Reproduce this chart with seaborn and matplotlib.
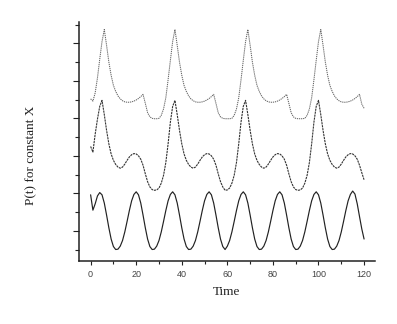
import numpy as np
import pandas as pd
import matplotlib
matplotlib.use("Agg")
import matplotlib.pyplot as plt
import seaborn as sns
from matplotlib.ticker import MultipleLocator

# ---- data (offset stacked series) ----
time = np.arange(0, 121)

top_series = [
    4.52, 4.46, 4.68, 5.08, 5.58, 6.05, 6.37, 5.95, 5.50, 5.15,
    4.88, 4.72, 4.60, 4.52, 4.47, 4.44, 4.43, 4.43, 4.44, 4.46,
    4.49, 4.53, 4.58, 4.64, 4.40, 4.15, 4.04, 4.00, 3.99, 3.99,
    4.00, 4.08, 4.25, 4.55, 5.03, 5.55, 6.05, 6.37, 5.95, 5.50,
    5.15, 4.88, 4.72, 4.60, 4.52, 4.47, 4.44, 4.43, 4.43, 4.44,
    4.46, 4.49, 4.53, 4.58, 4.64, 4.40, 4.15, 4.04, 4.00, 3.99,
    3.99, 3.99, 4.00, 4.08, 4.25, 4.55, 5.03, 5.55, 6.05, 6.37,
    5.95, 5.50, 5.15, 4.88, 4.72, 4.60, 4.52, 4.47, 4.44, 4.43,
    4.43, 4.44, 4.46, 4.49, 4.53, 4.58, 4.64, 4.40, 4.15, 4.04,
    4.00, 3.99, 3.99, 3.99, 4.00, 4.08, 4.25, 4.55, 5.03, 5.55,
    6.05, 6.37, 5.95, 5.50, 5.15, 4.88, 4.72, 4.60, 4.52, 4.47,
    4.44, 4.43, 4.43, 4.44, 4.46, 4.49, 4.53, 4.58, 4.64, 4.38,
    4.27,
]

middle_series = [
    3.25, 3.10, 3.58, 3.98, 4.32, 4.48, 4.10, 3.68, 3.32, 3.05,
    2.88, 2.77, 2.70, 2.67, 2.70, 2.78, 2.88, 2.97, 3.03, 3.06,
    3.05, 3.00, 2.91, 2.75, 2.52, 2.31, 2.17, 2.10, 2.08, 2.09,
    2.14, 2.27, 2.48, 2.82, 3.32, 3.90, 4.32, 4.48, 4.10, 3.68,
    3.32, 3.05, 2.88, 2.77, 2.70, 2.67, 2.70, 2.78, 2.88, 2.97,
    3.03, 3.06, 3.05, 3.00, 2.91, 2.75, 2.52, 2.31, 2.17, 2.08,
    2.09, 2.14, 2.27, 2.48, 2.82, 3.32, 3.90, 4.32, 4.48, 4.10,
    3.68, 3.32, 3.05, 2.88, 2.77, 2.70, 2.67, 2.70, 2.78, 2.88,
    2.97, 3.03, 3.06, 3.05, 3.00, 2.91, 2.75, 2.52, 2.31, 2.17,
    2.10, 2.08, 2.09, 2.14, 2.27, 2.48, 2.82, 3.32, 3.90, 4.32,
    4.48, 4.10, 3.68, 3.32, 3.05, 2.88, 2.77, 2.70, 2.67, 2.70,
    2.78, 2.88, 2.97, 3.03, 3.06, 3.05, 3.00, 2.91, 2.75, 2.55,
    2.36,
]

bottom_series = [
    1.96, 1.55, 1.72, 1.93, 2.02, 1.96, 1.74, 1.42, 1.08, 0.78,
    0.58, 0.50, 0.51, 0.59, 0.74, 0.97, 1.25, 1.54, 1.80, 1.97,
    2.04, 1.96, 1.74, 1.42, 1.08, 0.78, 0.58, 0.50, 0.51, 0.59,
    0.74, 0.97, 1.25, 1.54, 1.80, 1.97, 2.04, 1.96, 1.74, 1.42,
    1.08, 0.78, 0.58, 0.50, 0.51, 0.59, 0.74, 0.97, 1.25, 1.54,
    1.80, 1.97, 2.04, 1.96, 1.74, 1.42, 1.08, 0.78, 0.58, 0.50,
    0.59, 0.74, 0.97, 1.25, 1.54, 1.80, 1.97, 2.04, 1.96, 1.74,
    1.42, 1.08, 0.78, 0.58, 0.50, 0.51, 0.59, 0.74, 0.97, 1.25,
    1.54, 1.80, 1.97, 2.04, 1.96, 1.74, 1.42, 1.08, 0.78, 0.58,
    0.50, 0.51, 0.59, 0.74, 0.97, 1.25, 1.54, 1.80, 1.97, 2.04,
    1.96, 1.74, 1.42, 1.08, 0.78, 0.58, 0.50, 0.51, 0.59, 0.74,
    0.97, 1.25, 1.54, 1.80, 1.97, 2.06, 1.98, 1.72, 1.38, 1.05,
    0.78,
]

x_tick_values = [0, 20, 40, 60, 80, 100, 120]
x_label = "Time"
y_label = "P(t) for constant X"

# ---- figure ----
sns.set_style("ticks")
plt.rcParams["font.family"] = ["Liberation Sans", "DejaVu Sans"]

fig = plt.figure(figsize=(3.97, 3.24), dpi=100)
ax = fig.add_axes([0.199, 0.194, 0.7456, 0.738])

sns.lineplot(x=time, y=top_series, ax=ax, color="#666666", lw=0.75,
             linestyle=(0, (1.2, 0.8)))
sns.lineplot(x=time, y=middle_series, ax=ax, color="#333333", lw=0.8,
             linestyle=(0, (2.0, 0.7)))
sns.lineplot(x=time, y=bottom_series, ax=ax, color="#222222", lw=0.85)

ax.set_xlim(-5.1, 124.8)
ax.set_ylim(0.19, 6.57)
ax.set_xticks(x_tick_values)
ax.set_xticklabels([str(v) for v in x_tick_values])
ax.xaxis.set_minor_locator(MultipleLocator(10))
ax.yaxis.set_major_locator(MultipleLocator(1))
ax.yaxis.set_minor_locator(MultipleLocator(0.5))
ax.set_yticklabels([])

for side in ["top", "right"]:
    ax.spines[side].set_visible(False)
for side in ["left", "bottom"]:
    ax.spines[side].set_linewidth(1.1)
    ax.spines[side].set_color("#222222")

ax.tick_params(axis="x", which="major", direction="out", length=3.0, width=0.8,
               color="#222222", labelsize=6.5, labelcolor="#444444", pad=3.5)
ax.tick_params(axis="x", which="minor", direction="out", length=2.2, width=0.8,
               color="#222222")
ax.tick_params(axis="y", which="major", direction="out", length=4.2, width=0.8,
               color="#222222")
ax.tick_params(axis="y", which="minor", direction="out", length=2.6, width=0.8,
               color="#222222")

ax.set_xlabel(x_label, family="Liberation Serif", fontsize=9.5, color="#222222")
ax.set_ylabel(y_label, family="Liberation Serif", fontsize=9.5, color="#222222")
ax.xaxis.set_label_coords(0.499, -0.106)
ax.yaxis.set_label_coords(-0.142, 0.443)

fig.savefig("out.png", dpi=100)
